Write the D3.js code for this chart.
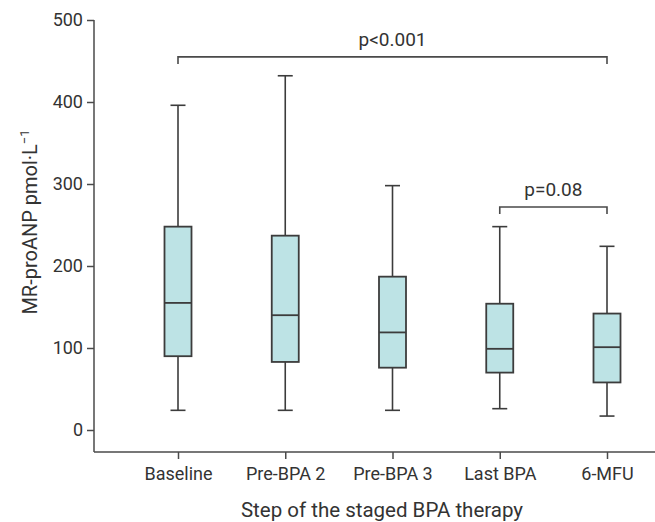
<!DOCTYPE html>
<html>
<head>
<meta charset="utf-8">
<script src="https://cdn.jsdelivr.net/npm/d3@7"></script>
<style>
  html, body { margin: 0; padding: 0; background: #fff; }
  svg { display: block; font-family: Roboto, "Liberation Sans", sans-serif; }
</style>
</head>
<body>
<svg id="chart" width="655" height="522"></svg>
<script>
// ---- data ----
const categories = ["Baseline", "Pre-BPA 2", "Pre-BPA 3", "Last BPA", "6-MFU"];
const whiskerLow  = [24, 24, 24, 26, 17];
const q1          = [90, 83, 76, 70, 58];
const median      = [155, 140, 119, 99, 101];
const q3          = [248, 237, 187, 154, 142];
const whiskerHigh = [396, 432, 298, 248, 224];
const yTicks = [0, 100, 200, 300, 400, 500];
const brackets = [
  { from: "Baseline", to: "6-MFU", value: 455, label: "p<0.001" },
  { from: "Last BPA", to: "6-MFU", value: 272, label: "p=0.08" }
];
const xTitle = "Step of the staged BPA therapy";

// ---- layout ----
const svg = d3.select("#chart");
const axisColor = "#4a4a4a";
const textColor = "#333";
const boxFill = "#bde3e5";
const boxStroke = "#3c3c3c";

const y = d3.scaleLinear().domain([0, 500]).range([430, 20]);
const x = d3.scalePoint().domain(categories).range([178, 607]);
const xAxisY = 452;
const axisLeftX = 94;
const axisRightX = 655;

// y axis
const yAxis = svg.append("g")
  .attr("transform", `translate(${axisLeftX},0)`)
  .call(d3.axisLeft(y).tickValues(yTicks).tickSize(7).tickPadding(4).tickSizeOuter(0));
yAxis.select(".domain").remove();
yAxis.selectAll(".tick line").attr("stroke", axisColor).attr("stroke-width", 1.5);
yAxis.selectAll(".tick text").attr("fill", textColor).style("font-size", "18px")
  .style("font-family", "Roboto, sans-serif");
svg.append("line")
  .attr("x1", axisLeftX).attr("x2", axisLeftX)
  .attr("y1", y(500)).attr("y2", xAxisY)
  .attr("stroke", axisColor).attr("stroke-width", 1.5);

// x axis
const xAxis = svg.append("g")
  .attr("transform", `translate(0,${xAxisY})`)
  .call(d3.axisBottom(x).tickSize(7).tickPadding(8).tickSizeOuter(0));
xAxis.select(".domain").remove();
xAxis.selectAll(".tick line").attr("stroke", axisColor).attr("stroke-width", 1.5);
xAxis.selectAll(".tick text").attr("fill", textColor).style("font-size", "18px")
  .style("font-family", "Roboto, sans-serif");
svg.append("line")
  .attr("x1", axisLeftX).attr("x2", axisRightX)
  .attr("y1", xAxisY).attr("y2", xAxisY)
  .attr("stroke", axisColor).attr("stroke-width", 1.5);

// axis titles
svg.append("text")
  .attr("x", 382).attr("y", 517)
  .attr("text-anchor", "middle")
  .attr("fill", textColor)
  .style("font-size", "20.5px")
  .text(xTitle);

const yt = svg.append("text")
  .attr("transform", "translate(37,222) rotate(-90)")
  .attr("text-anchor", "middle")
  .attr("fill", textColor)
  .style("font-size", "20px");
yt.append("tspan").text("MR-proANP pmol\u00B7L");
yt.append("tspan").attr("dy", -8).style("font-size", "13px").text("\u22121");

// boxes
const boxW = 27, capW = 15;
const data = categories.map((c, i) => ({
  c, lo: whiskerLow[i], q1: q1[i], med: median[i], q3: q3[i], hi: whiskerHigh[i]
}));
const g = svg.append("g");
const b = g.selectAll("g.box").data(data).join("g").attr("class", "box");
// whiskers
b.append("line")
  .attr("x1", d => x(d.c)).attr("x2", d => x(d.c))
  .attr("y1", d => y(d.hi)).attr("y2", d => y(d.lo))
  .attr("stroke", boxStroke).attr("stroke-width", 1.6);
b.append("line")
  .attr("x1", d => x(d.c) - capW / 2).attr("x2", d => x(d.c) + capW / 2)
  .attr("y1", d => y(d.hi)).attr("y2", d => y(d.hi))
  .attr("stroke", boxStroke).attr("stroke-width", 1.6);
b.append("line")
  .attr("x1", d => x(d.c) - capW / 2).attr("x2", d => x(d.c) + capW / 2)
  .attr("y1", d => y(d.lo)).attr("y2", d => y(d.lo))
  .attr("stroke", boxStroke).attr("stroke-width", 1.6);
// box
b.append("rect")
  .attr("x", d => x(d.c) - boxW / 2).attr("width", boxW)
  .attr("y", d => y(d.q3)).attr("height", d => y(d.q1) - y(d.q3))
  .attr("fill", boxFill).attr("stroke", boxStroke).attr("stroke-width", 1.8);
// median
b.append("line")
  .attr("x1", d => x(d.c) - boxW / 2).attr("x2", d => x(d.c) + boxW / 2)
  .attr("y1", d => y(d.med)).attr("y2", d => y(d.med))
  .attr("stroke", boxStroke).attr("stroke-width", 1.8);

// significance brackets
const br = svg.append("g").selectAll("g").data(brackets).join("g");
br.append("path")
  .attr("d", d => {
    const x1 = x(d.from), x2 = x(d.to), yy = y(d.value);
    return `M${x1},${yy + 7}V${yy}H${x2}V${yy + 7}`;
  })
  .attr("fill", "none").attr("stroke", axisColor).attr("stroke-width", 1.6);
br.append("text")
  .attr("x", d => (x(d.from) + x(d.to)) / 2)
  .attr("y", d => y(d.value) - 11)
  .attr("text-anchor", "middle")
  .attr("fill", textColor)
  .style("font-size", "19px")
  .text(d => d.label);
</script>
</body>
</html>
